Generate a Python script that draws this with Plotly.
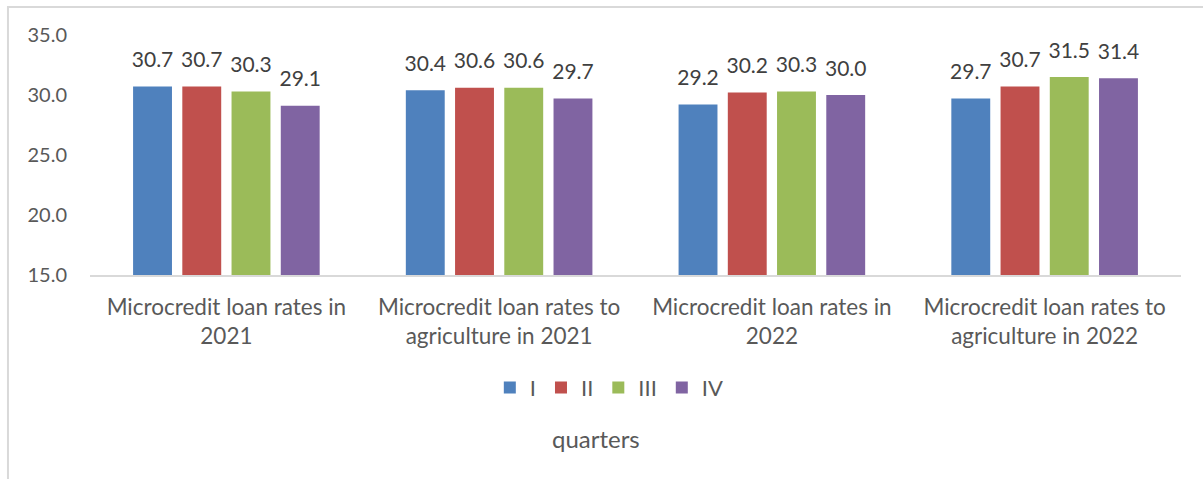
import plotly.graph_objects as go

categories = [
    "Microcredit loan rates in<br>2021",
    "Microcredit loan rates to<br>agriculture in 2021",
    "Microcredit loan rates in<br>2022",
    "Microcredit loan rates to<br>agriculture in 2022",
]
quarters = ["I", "II", "III", "IV"]
q1 = [30.7, 30.4, 29.2, 29.7]
q2 = [30.7, 30.6, 30.2, 30.7]
q3 = [30.3, 30.6, 30.3, 31.5]
q4 = [29.1, 29.7, 30.0, 31.4]
series = [q1, q2, q3, q4]
colors = ["#4F81BD", "#C0504D", "#9BBB59", "#8064A2"]

FONT = "Lato"
GREY = "#595959"
GAP = 0.278

fig = go.Figure()
for name, vals, col in zip(quarters, series, colors):
    fig.add_trace(go.Bar(
        x=categories, y=vals, name=name, marker_color=col,
        marker_line_width=0,
    ))
# value labels, grouped the same way as the bars
for name, vals in zip(quarters, series):
    fig.add_trace(go.Scatter(
        x=categories, y=vals, mode="markers+text",
        text=[f"{v:.1f}" for v in vals], textposition="top center",
        textfont=dict(family=FONT, size=21, color="#404040"),
        marker=dict(size=21, color="rgba(0,0,0,0)"),
        showlegend=False, hoverinfo="skip", cliponaxis=False,
    ))

fig.update_layout(
    width=1203, height=479,
    margin=dict(l=90, r=22, t=35, b=204),
    paper_bgcolor="white", plot_bgcolor="white",
    barmode="group", bargap=GAP, bargroupgap=0.21,
    scattermode="group", scattergap=GAP,
    font=dict(family=FONT, size=20, color=GREY),
    showlegend=True,
    legend=dict(
        orientation="h", x=0.476, xanchor="center", y=-0.47, yanchor="middle",
        font=dict(family=FONT, size=22, color=GREY),
        itemclick=False, tracegroupgap=0,
    ),
    annotations=[dict(
        text="quarters", xref="paper", yref="paper", x=0.464, y=-0.68,
        yanchor="middle",
        showarrow=False, font=dict(family=FONT, size=24, color=GREY),
    )],
    shapes=[dict(
        type="rect", xref="paper", yref="paper",
        x0=-0.0752, x1=1.3, y0=-1.2, y1=1.1167,
        line=dict(color="#D9D9D9", width=2), layer="below",
    )],
)
fig.update_xaxes(
    showline=True, linecolor="#D9D9D9", linewidth=2,
    showgrid=False, ticks="", ticklabelstandoff=11,
    tickfont=dict(family=FONT, size=22.5, color=GREY),
)
fig.update_yaxes(
    range=[15, 35], dtick=5, tickformat=".1f",
    showgrid=False, zeroline=False, showline=False,
    ticks="", ticklabelstandoff=22,
    tickfont=dict(family=FONT, size=20, color=GREY),
)

fig.write_html("out.html")
